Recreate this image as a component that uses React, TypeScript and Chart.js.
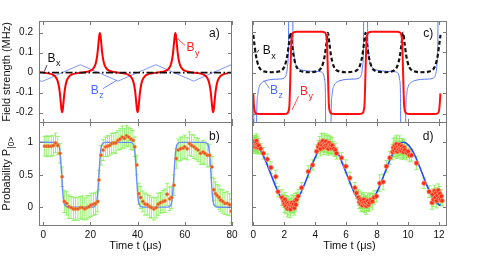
import React, { useEffect, useRef } from "react";
import { Chart, registerables } from "chart.js";

Chart.register(...registerables);

const W = 485;
const H = 261;
const FONT = '"Liberation Sans", Arial, Helvetica, sans-serif';

// ---------- Panel a: field strengths (MHz) vs time (us) ----------
const aByTime = [
  -2, 0, 2,
  4, 5, 6, 6.5, 7, 7.4, 7.7, 8, 8.3, 8.6, 9, 9.5, 10, 11, 12,
  14, 16, 18,
  20, 21, 22, 22.5, 23, 23.4, 23.7, 24, 24.3, 24.6, 25, 25.5, 26, 27, 28,
  30, 32, 34,
  36, 37, 38, 38.5, 39, 39.4, 39.7, 40, 40.3, 40.6, 41, 41.5, 42, 43, 44,
  46, 48, 50,
  52, 53, 54, 54.5, 55, 55.4, 55.7, 56, 56.3, 56.6, 57, 57.5, 58, 59, 60,
  62, 64, 66,
  68, 69, 70, 70.5, 71, 71.4, 71.7, 72, 72.3, 72.6, 73, 73.5, 74, 75, 76,
  78, 80,
];
const aByValue = [
  0.003, 0, -0.003,
  -0.01, -0.018, -0.038, -0.06, -0.098, -0.146, -0.182, -0.198, -0.182, -0.146, -0.098, -0.06, -0.038, -0.018, -0.01,
  -0.003, 0, 0.003,
  0.01, 0.018, 0.038, 0.06, 0.098, 0.146, 0.182, 0.198, 0.182, 0.146, 0.098, 0.06, 0.038, 0.018, 0.01,
  0.003, 0, -0.003,
  -0.01, -0.018, -0.038, -0.06, -0.098, -0.146, -0.182, -0.198, -0.182, -0.146, -0.098, -0.06, -0.038, -0.018, -0.01,
  -0.003, 0, 0.003,
  0.01, 0.018, 0.038, 0.06, 0.098, 0.146, 0.182, 0.198, 0.182, 0.146, 0.098, 0.06, 0.038, 0.018, 0.01,
  0.003, 0, -0.003,
  -0.01, -0.018, -0.038, -0.06, -0.098, -0.146, -0.182, -0.198, -0.182, -0.146, -0.098, -0.06, -0.038, -0.018, -0.01,
  -0.003, 0,
];
const aBzTime = [-2, -0.3, 15.7, 31.7, 47.7, 63.7, 79.7, 80];
const aBzValue = [-0.04, -0.043, 0.04, -0.042, 0.04, -0.042, 0.04, 0.039];
const aBxTime = [-2, 80];
const aBxValue = [0, 0];

// ---------- Panel b: probability vs time (us) ----------
const bFitTime = [
  -2, 0,
  5.3, 6.3, 6.8, 7.2, 7.5, 7.8, 8.1, 8.4, 8.8, 9.3, 10.3,
  21.1, 22.1, 22.6, 23.0, 23.3, 23.6, 23.9, 24.2, 24.6, 25.1, 26.1,
  37.0, 38.0, 38.5, 38.9, 39.2, 39.5, 39.8, 40.1, 40.5, 41.0, 42.0,
  52.9, 53.9, 54.4, 54.8, 55.1, 55.4, 55.7, 56.0, 56.4, 56.9, 57.9,
  68.6, 69.6, 70.1, 70.5, 70.8, 71.1, 71.4, 71.7, 72.1, 72.6, 73.6,
  80,
];
const bFitValue = [
  1.0, 1.0,
  0.998, 0.975, 0.93, 0.82, 0.67, 0.5, 0.33, 0.18, 0.07, 0.025, 0.003,
  0.003, 0.025, 0.07, 0.18, 0.33, 0.5, 0.67, 0.82, 0.93, 0.975, 0.998,
  0.998, 0.975, 0.93, 0.82, 0.67, 0.5, 0.33, 0.18, 0.07, 0.025, 0.003,
  0.003, 0.025, 0.07, 0.18, 0.33, 0.5, 0.67, 0.82, 0.93, 0.975, 0.998,
  0.998, 0.975, 0.93, 0.82, 0.67, 0.5, 0.33, 0.18, 0.07, 0.025, 0.003,
  0.0,
];
const bTime = [
  0.6, 1.5, 2.4, 3.4, 4.3, 5.2, 6.15, 7.1, 8.0, 8.95,
  9.9, 10.8, 11.8, 12.8, 13.7, 14.7, 15.7, 16.6, 17.6, 18.5,
  19.4, 20.3, 21.3, 22.2, 23.1, 23.6, 24.5, 25.4, 26.4, 27.2,
  28.1, 29.0, 29.9, 30.8, 31.7, 32.6, 33.5, 34.4, 35.3, 36.2,
  37.1, 38.0, 38.8, 39.6, 40.5, 41.3, 42.2, 43.1, 44.1, 45.1,
  45.9, 46.9, 47.9, 48.7, 49.7, 50.7, 51.6, 52.5, 53.6, 54.4,
  55.4, 56.4, 57.2, 58.2, 59.2, 60.0, 61.0, 62.0, 62.9, 63.9,
  64.8, 65.7, 66.7, 67.7, 68.5, 69.5, 70.5, 71.5, 72.3, 73.0,
  73.7, 74.5, 75.2, 76.1, 77.0, 78.0, 79.0, 79.8,
];
const bValue = [
  0.94, 0.94, 0.94, 0.94, 0.95, 0.99, 0.95, 0.83, 0.47, 0.09,
  0.06, 0.01, -0.005, -0.025, -0.025, -0.025, -0.005, -0.005, -0.025, -0.005,
  0.01, 0.036, 0.046, 0.06, 0.09, 0.42, 0.8, 0.88, 0.93, 0.94,
  0.95, 0.98, 0.99, 0.99, 1.03, 1.05, 1.08, 1.06, 1.1, 1.08,
  1.05, 1.03, 0.93, 0.65, 0.21, 0.15, 0.09, 0.05, 0.04, 0.01,
  -0.005, -0.025, -0.005, 0.046, 0.07, 0.087, 0.1, 0.2, 0.13, 0.15,
  0.34, 0.75, 0.88, 0.9, 0.91, 0.93, 0.9, 0.98, 0.95, 0.93,
  0.9, 0.88, 0.83, 0.85, 0.83, 0.8, 0.8, 0.62, 0.27, 0.21,
  0.18, 0.15, 0.11, 0.09, 0.06, 0.06, 0.04, -0.06,
];
const bError = [
  0.15, 0.16, 0.15, 0.16, 0.15, 0.15, 0.14, 0.15, 0.15, 0.17,
  0.18, 0.18, 0.17, 0.18, 0.17, 0.18, 0.17, 0.18, 0.17, 0.18,
  0.17, 0.18, 0.17, 0.17, 0.16, 0.15, 0.15, 0.16, 0.15, 0.16,
  0.15, 0.16, 0.15, 0.16, 0.15, 0.16, 0.17, 0.15, 0.16, 0.15,
  0.16, 0.15, 0.15, 0.15, 0.16, 0.17, 0.16, 0.17, 0.16, 0.17,
  0.16, 0.17, 0.16, 0.17, 0.16, 0.17, 0.18, 0.17, 0.18, 0.17,
  0.16, 0.15, 0.17, 0.18, 0.17, 0.18, 0.17, 0.18, 0.17, 0.18,
  0.17, 0.18, 0.17, 0.18, 0.17, 0.18, 0.17, 0.16, 0.17, 0.18,
  0.17, 0.18, 0.17, 0.18, 0.17, 0.18, 0.17, 0.18,
];

// ---------- Panel c: field strengths vs time (us) ----------
const cByTime = [
  0, 0.03, 0.09, 0.17, 0.37,
  2.0, 2.2, 2.28, 2.34, 2.4, 2.46, 2.52, 2.6, 2.8,
  4.42, 4.62, 4.7, 4.76, 4.82, 4.88, 4.94, 5.02, 5.22,
  6.85, 7.05, 7.13, 7.19, 7.25, 7.31, 7.37, 7.45, 7.65,
  9.28, 9.48, 9.56, 9.62, 9.68, 9.74, 9.8, 9.88, 10.08,
  11.72, 11.92, 12.0, 12.05, 12.09,
];
const cByValue = [
  -0.1, -0.15, -0.185, -0.196, -0.2,
  -0.2, -0.196, -0.185, -0.15, 0, 0.15, 0.185, 0.196, 0.2,
  0.2, 0.196, 0.185, 0.15, 0, -0.15, -0.185, -0.196, -0.2,
  -0.2, -0.196, -0.185, -0.15, 0, 0.15, 0.185, 0.196, 0.2,
  0.2, 0.196, 0.185, 0.15, 0, -0.15, -0.185, -0.196, -0.2,
  -0.2, -0.196, -0.185, -0.15, -0.1,
];
const cBxTime = [
  0, 0.07, 0.17, 0.27, 0.37, 0.52, 0.77, 1.185,
  1.6, 1.85, 2.0, 2.1, 2.2, 2.3, 2.4, 2.5, 2.6, 2.7, 2.8, 2.95, 3.2, 3.61,
  4.02, 4.27, 4.42, 4.52, 4.62, 4.72, 4.82, 4.92, 5.02, 5.12, 5.22, 5.37, 5.62, 6.035,
  6.45, 6.7, 6.85, 6.95, 7.05, 7.15, 7.25, 7.35, 7.45, 7.55, 7.65, 7.8, 8.05, 8.465,
  8.88, 9.13, 9.28, 9.38, 9.48, 9.58, 9.68, 9.78, 9.88, 9.98, 10.08, 10.23, 10.48, 10.9,
  11.32, 11.57, 11.72, 11.82, 11.92, 12.02, 12.1,
];
const cBxValue = [
  0.185, 0.14, 0.085, 0.05, 0.028, 0.013, 0.006, 0.003,
  0.006, 0.013, 0.028, 0.05, 0.085, 0.14, 0.195, 0.14, 0.085, 0.05, 0.028, 0.013, 0.006, 0.003,
  0.006, 0.013, 0.028, 0.05, 0.085, 0.14, 0.195, 0.14, 0.085, 0.05, 0.028, 0.013, 0.006, 0.003,
  0.006, 0.013, 0.028, 0.05, 0.085, 0.14, 0.195, 0.14, 0.085, 0.05, 0.028, 0.013, 0.006, 0.003,
  0.006, 0.013, 0.028, 0.05, 0.085, 0.14, 0.195, 0.14, 0.085, 0.05, 0.028, 0.013, 0.006, 0.003,
  0.006, 0.013, 0.028, 0.05, 0.085, 0.14, 0.185,
];
const cBzTime = [
  0, 0.04, 0.07, 0.16, 0.22, 0.3, 0.4, 0.55, 0.8, 1.2, 1.7, 2.0, 2.1, 2.17, 2.22, 2.27, 2.31,
  2.52, 2.56, 2.61, 2.68, 2.78, 2.95, 3.25, 3.7, 4.25, 4.45, 4.55, 4.61, 4.66, 4.7,
  4.98, 5.03, 5.1, 5.2, 5.35, 5.6, 6.0, 6.5, 6.85, 6.95, 7.02, 7.07, 7.12, 7.16,
  7.35, 7.39, 7.44, 7.51, 7.61, 7.78, 8.08, 8.5, 9.05, 9.3, 9.4, 9.46, 9.51, 9.55,
  9.8, 9.85, 9.92, 10.02, 10.17, 10.42, 10.82, 11.3, 11.65, 11.75, 11.82, 11.87, 11.92, 11.96,
];
const cBzValue = [
  -0.1, -0.25, -0.6, -0.6, -0.2, -0.1, -0.065, -0.048, -0.038, -0.032, -0.03, -0.025, -0.015, 0.005, 0.04, 0.12, 0.6,
  0.6, 0.2, 0.11, 0.06, 0.035, 0.02, 0.012, 0.008, 0.006, 0.002, -0.01, -0.035, -0.1, -0.6,
  -0.6, -0.2, -0.1, -0.065, -0.048, -0.038, -0.032, -0.03, -0.025, -0.015, 0.005, 0.04, 0.12, 0.6,
  0.6, 0.2, 0.11, 0.06, 0.035, 0.02, 0.012, 0.008, 0.006, 0.002, -0.01, -0.035, -0.1, -0.6,
  -0.6, -0.2, -0.1, -0.065, -0.048, -0.038, -0.032, -0.03, -0.025, -0.015, 0.005, 0.04, 0.12, 0.6,
];

// ---------- Panel d: probability vs time (us) ----------
const dFitTime = [
  0, 0.3, 0.6, 0.9, 1.2, 1.5, 1.8, 2.1, 2.35, 2.7,
  3.0, 3.3, 3.6, 3.9, 4.2, 4.5, 4.8, 5.1, 5.4, 5.7,
  6.0, 6.3, 6.6, 6.9, 7.25, 7.5, 7.8, 8.1, 8.4, 8.7,
  9.0, 9.3, 9.7, 9.9, 10.2, 10.5, 10.8, 11.1, 11.4, 11.7,
  12.0, 12.1,
];
const dFitValue = [
  0.996, 0.938, 0.818, 0.653, 0.469, 0.29, 0.146, 0.055, 0.03, 0.078,
  0.189, 0.348, 0.53, 0.711, 0.863, 0.965, 1.0, 0.965, 0.863, 0.711,
  0.53, 0.348, 0.189, 0.078, 0.03, 0.055, 0.146, 0.291, 0.469, 0.653,
  0.818, 0.938, 1.0, 0.984, 0.904, 0.766, 0.593, 0.407, 0.238, 0.109,
  0.039, 0.031,
];
const dTime = [
  0.0, 0.03, 0.06, 0.09, 0.12, 0.15, 0.18, 0.21, 0.24, 0.27, 0.31, 0.35,
  0.48, 0.65, 0.9, 1.14, 1.45, 1.6,
  1.85, 1.95, 2.0, 2.05, 2.1, 2.15, 2.2, 2.25, 2.3, 2.35, 2.4, 2.45, 2.5, 2.55, 2.6, 2.65, 2.7, 2.75, 2.8, 2.9,
  3.12, 3.55, 3.83, 4.09,
  4.2, 4.28, 4.35, 4.4, 4.45, 4.5, 4.55, 4.6, 4.65, 4.7, 4.75, 4.8, 4.85, 4.9, 4.95, 5.0, 5.05, 5.1, 5.2, 5.3,
  5.38, 5.7, 5.98, 6.24, 6.56, 6.67,
  6.8, 6.85, 6.9, 6.95, 7.0, 7.05, 7.1, 7.15, 7.2, 7.25, 7.3, 7.35, 7.4, 7.45, 7.5, 7.6, 7.7, 7.8,
  7.96, 8.17, 8.39, 8.6, 8.82,
  9.0, 9.05, 9.1, 9.15, 9.2, 9.25, 9.3, 9.35, 9.4, 9.45, 9.5, 9.55, 9.6, 9.65, 9.7, 9.75, 9.8, 9.9, 10.0, 10.1,
  10.22, 10.54, 11.03, 11.36,
  11.55, 11.6, 11.65, 11.7, 11.75, 11.8, 11.85, 11.9, 11.95, 12.0, 12.05, 12.1, 12.15, 12.2,
];
const dValue = [
  0.98, 0.95, 1.01, 0.97, 0.93, 0.99, 0.96, 1.02, 0.94, 0.97, 0.92, 0.95,
  0.9, 0.83, 0.74, 0.61, 0.47, 0.24,
  0.15, 0.1, 0.05, 0.12, 0.02, 0.08, -0.02, 0.06, 0.0, 0.04, -0.03, 0.03, 0.07, 0.01, 0.05, -0.01, 0.09, 0.04, 0.12, 0.17,
  0.3, 0.55, 0.65, 0.86,
  0.93, 0.97, 0.9, 1.0, 0.95, 1.02, 0.92, 0.98, 0.95, 1.01, 0.93, 0.97, 0.9, 0.99, 0.94, 0.96, 0.91, 0.95, 0.9, 0.88,
  0.83, 0.76, 0.63, 0.45, 0.3, 0.22,
  0.15, 0.08, 0.12, 0.05, 0.1, 0.03, 0.07, 0.12, 0.04, 0.08, 0.02, 0.06, 0.1, 0.04, 0.07, 0.11, 0.09, 0.15,
  0.17, 0.37, 0.39, 0.63, 0.76,
  0.85, 0.92, 0.88, 0.95, 0.9, 0.97, 0.86, 0.93, 0.89, 0.96, 0.91, 0.87, 0.94, 0.9, 0.85, 0.92, 0.88, 0.84, 0.86, 0.8,
  0.8, 0.68, 0.37, 0.24,
  0.07, 0.2, 0.12, 0.25, 0.15, 0.22, 0.1, 0.18, 0.26, 0.14, 0.21, 0.12, 0.17, 0.1,
];
const dError = [
  0.1, 0.12, 0.09, 0.11, 0.1, 0.12, 0.09, 0.11, 0.1, 0.12, 0.1, 0.11,
  0.08, 0.09, 0.08, 0.09, 0.1, 0.08,
  0.12, 0.1, 0.13, 0.11, 0.12, 0.1, 0.13, 0.11, 0.12, 0.1, 0.13, 0.11, 0.12, 0.1, 0.13, 0.11, 0.12, 0.1, 0.11, 0.1,
  0.08, 0.09, 0.08, 0.1,
  0.1, 0.12, 0.11, 0.13, 0.1, 0.12, 0.11, 0.13, 0.1, 0.12, 0.11, 0.13, 0.1, 0.12, 0.11, 0.13, 0.1, 0.12, 0.11, 0.1,
  0.09, 0.08, 0.1, 0.09, 0.08, 0.09,
  0.12, 0.1, 0.13, 0.11, 0.12, 0.1, 0.13, 0.11, 0.12, 0.1, 0.13, 0.11, 0.12, 0.1, 0.13, 0.11, 0.12, 0.1,
  0.09, 0.13, 0.12, 0.09, 0.1,
  0.12, 0.14, 0.11, 0.13, 0.12, 0.14, 0.11, 0.13, 0.12, 0.14, 0.11, 0.13, 0.12, 0.14, 0.11, 0.13, 0.12, 0.11, 0.1, 0.1,
  0.09, 0.1, 0.08, 0.09,
  0.1, 0.08, 0.11, 0.09, 0.1, 0.08, 0.11, 0.09, 0.1, 0.08, 0.11, 0.09, 0.1, 0.08,
];

// ---------- ticks ----------
const timeTicksLeft = [0, 20, 40, 60, 80];
const timeTickLabelsLeft = ["0", "20", "40", "60", "80"];
const timeTicksRight = [0, 2, 4, 6, 8, 10, 12];
const timeTickLabelsRight = ["0", "2", "4", "6", "8", "10", "12"];
const fieldTicks = [-0.2, -0.1, 0, 0.1, 0.2];
const fieldTickLabels = ["-0.2", "-0.1", "0", "0.1", "0.2"];
const probTicks = [0, 0.5, 1];
const probTickLabels = ["0", "0.5", "1"];

const pts = (xs: number[], ys: number[]) => xs.map((x, i) => ({ x, y: ys[i] }));

// ---------- plugins ----------
function framePlugin(xTicks: number[], yTicks: number[]) {
  return {
    id: "frame",
    afterDatasetsDraw(chart: any) {
      const { ctx, chartArea: ca, scales } = chart;
      ctx.save();
      ctx.strokeStyle = "#7a7a7a";
      ctx.lineWidth = 1;
      ctx.strokeRect(ca.left + 0.5, ca.top + 0.5, ca.right - ca.left - 1, ca.bottom - ca.top - 1);
      const L = 4;
      ctx.beginPath();
      for (const v of xTicks) {
        const px = Math.round(scales.x.getPixelForValue(v)) + 0.5;
        ctx.moveTo(px, ca.bottom);
        ctx.lineTo(px, ca.bottom - L);
        ctx.moveTo(px, ca.top);
        ctx.lineTo(px, ca.top + L);
      }
      for (const v of yTicks) {
        const py = Math.round(scales.y.getPixelForValue(v)) + 0.5;
        ctx.moveTo(ca.left, py);
        ctx.lineTo(ca.left + L, py);
        ctx.moveTo(ca.right, py);
        ctx.lineTo(ca.right - L, py);
      }
      ctx.stroke();
      ctx.restore();
    },
  };
}

function errorBarPlugin(xs: number[], ys: number[], es: number[], color: string, cap: number) {
  return {
    id: "errbars",
    beforeDatasetsDraw(chart: any) {
      const { ctx, chartArea: ca, scales } = chart;
      ctx.save();
      ctx.beginPath();
      ctx.rect(ca.left, ca.top, ca.right - ca.left, ca.bottom - ca.top);
      ctx.clip();
      ctx.strokeStyle = color;
      ctx.lineWidth = 1;
      ctx.beginPath();
      xs.forEach((x, i) => {
        const px = scales.x.getPixelForValue(x);
        const y1 = scales.y.getPixelForValue(ys[i] - es[i]);
        const y2 = scales.y.getPixelForValue(ys[i] + es[i]);
        ctx.moveTo(px, y1);
        ctx.lineTo(px, y2);
        ctx.moveTo(px - cap, y1);
        ctx.lineTo(px + cap, y1);
        ctx.moveTo(px - cap, y2);
        ctx.lineTo(px + cap, y2);
      });
      ctx.stroke();
      ctx.restore();
    },
  };
}

function annotPlugin(items: any[]) {
  return {
    id: "annot",
    afterDraw(chart: any) {
      const { ctx, chartArea: ca, scales } = chart;
      const X = (v: number) => scales.x.getPixelForValue(v);
      const Y = (v: number) => scales.y.getPixelForValue(v);
      for (const it of items) {
        ctx.save();
        if (it.kind === "line") {
          ctx.strokeStyle = it.color;
          ctx.lineWidth = 0.8;
          ctx.beginPath();
          ctx.moveTo(X(it.x1), Y(it.y1));
          ctx.lineTo(X(it.x2), Y(it.y2));
          ctx.stroke();
        } else if (it.kind === "text") {
          const px = X(it.x);
          const py = Y(it.y);
          ctx.fillStyle = it.color;
          ctx.textAlign = "left";
          ctx.textBaseline = "middle";
          ctx.font = `${it.size}px ${FONT}`;
          ctx.fillText(it.text, px, py);
          if (it.sub) {
            const w = ctx.measureText(it.text).width;
            ctx.font = `${it.size * 0.75}px ${FONT}`;
            ctx.fillText(it.sub, px + w + 0.5, py + it.size * 0.45);
          }
        } else if (it.kind === "ytitle") {
          ctx.translate(it.px, (ca.top + ca.bottom) / 2);
          ctx.rotate(-Math.PI / 2);
          ctx.fillStyle = "#111";
          ctx.textAlign = "left";
          ctx.textBaseline = "middle";
          ctx.font = `${it.size}px ${FONT}`;
          const w = ctx.measureText(it.text).width;
          let ws = 0;
          if (it.sub) {
            ctx.font = `${it.size * 0.75}px ${FONT}`;
            ws = ctx.measureText(it.sub).width;
          }
          const start = -(w + ws) / 2;
          ctx.font = `${it.size}px ${FONT}`;
          ctx.fillText(it.text, start, 0);
          if (it.sub) {
            ctx.font = `${it.size * 0.75}px ${FONT}`;
            ctx.fillText(it.sub, start + w + 0.5, it.size * 0.45);
          }
        } else if (it.kind === "xtitle") {
          ctx.fillStyle = "#111";
          ctx.textAlign = "center";
          ctx.textBaseline = "middle";
          ctx.font = `${it.size}px ${FONT}`;
          ctx.fillText(it.text, (ca.left + ca.right) / 2, ca.bottom + it.dy);
        }
        ctx.restore();
      }
    },
  };
}

function makeConfig(o: any) {
  const tickFont = { family: FONT, size: 10 };
  const plugins: any[] = [];
  if (o.errbars) plugins.push(o.errbars);
  plugins.push(framePlugin(o.xTicks, o.yTicks));
  plugins.push(annotPlugin(o.annot));
  const yW = o.yLabels ? 38 : 0;
  const xH = o.xLabels ? 30 : 0;
  return {
    type: "line",
    data: { datasets: o.datasets },
    options: {
      animation: false,
      responsive: false,
      maintainAspectRatio: false,
      events: [],
      layout: {
        padding: { left: o.box.l - yW, top: o.box.t, right: W - o.box.r, bottom: H - o.box.b - xH },
      },
      plugins: { legend: { display: false }, tooltip: { enabled: false }, title: { display: false } },
      scales: {
        x: {
          type: "linear",
          min: o.xMin,
          max: o.xMax,
          grid: { display: false, drawTicks: false },
          border: { display: false },
          afterFit: (s: any) => {
            s.height = xH;
          },
          afterBuildTicks: (s: any) => {
            s.ticks = o.xTicks.map((v: number) => ({ value: v }));
          },
          ticks: {
            display: !!o.xLabels,
            autoSkip: false,
            maxRotation: 0,
            minRotation: 0,
            padding: 3,
            color: "#111",
            font: tickFont,
            callback: (_v: any, i: number) => (o.xLabels ? o.xLabels[i] : ""),
          },
        },
        y: {
          type: "linear",
          min: o.yMin,
          max: o.yMax,
          grid: { display: false, drawTicks: false },
          border: { display: false },
          afterFit: (s: any) => {
            s.width = yW;
          },
          afterBuildTicks: (s: any) => {
            s.ticks = o.yTicks.map((v: number) => ({ value: v }));
          },
          ticks: {
            display: !!o.yLabels,
            autoSkip: false,
            padding: 6,
            color: "#111",
            font: tickFont,
            callback: (_v: any, i: number) => (o.yLabels ? o.yLabels[i] : ""),
          },
        },
      },
    },
    plugins,
  };
}

const line = (xs: number[], ys: number[], color: string, width: number, extra: any = {}) => ({
  data: pts(xs, ys),
  borderColor: color,
  backgroundColor: color,
  borderWidth: width,
  pointRadius: 0,
  fill: false,
  tension: 0,
  ...extra,
});

const configA = () =>
  makeConfig({
    box: { l: 39, t: 21, r: 232, b: 123 },
    xMin: -1.8, xMax: 80, yMin: -0.2515, yMax: 0.2585,
    xTicks: timeTicksLeft, xLabels: null,
    yTicks: fieldTicks, yLabels: fieldTickLabels,
    datasets: [
      line(aBxTime, aBxValue, "#111", 1.8, { borderDash: [7, 2.5, 1.5, 2.5], order: 0 }),
      line(aByTime, aByValue, "#ff0000", 2, { cubicInterpolationMode: "monotone", order: 1 }),
      line(aBzTime, aBzValue, "#7f98ff", 1, { order: 2 }),
    ],
    annot: [
      { kind: "ytitle", text: "Field strength (MHz)", px: 7, size: 11 },
      { kind: "line", x1: 0.45, y1: 0.006, x2: 1.59, y2: 0.038, color: "#111" },
      { kind: "text", text: "B", sub: "x", x: 1.8, y: 0.071, color: "#111", size: 12 },
      { kind: "line", x1: 57.0, y1: 0.17, x2: 60.1, y2: 0.136, color: "#ff2020" },
      { kind: "text", text: "B", sub: "y", x: 60.7, y: 0.124, color: "#ff2020", size: 12 },
      { kind: "line", x1: 25.3, y1: -0.08, x2: 31.0, y2: -0.039, color: "#4a6aff" },
      { kind: "text", text: "B", sub: "z", x: 20.1, y: -0.089, color: "#4a6aff", size: 12 },
      { kind: "text", text: "a)", x: 70.3, y: 0.195, color: "#111", size: 12 },
    ],
  });

const configB = () =>
  makeConfig({
    box: { l: 39, t: 122, r: 232, b: 226 },
    xMin: -1.8, xMax: 80, yMin: -0.288, yMax: 1.312,
    xTicks: timeTicksLeft, xLabels: timeTickLabelsLeft,
    yTicks: probTicks, yLabels: probTickLabels,
    errbars: errorBarPlugin(bTime, bValue, bError, "rgba(125, 238, 75, 0.8)", 2),
    datasets: [
      {
        data: pts(bTime, bValue),
        showLine: false,
        pointRadius: 1.7,
        pointBackgroundColor: "#e4532b",
        pointBorderColor: "#f5a145",
        pointBorderWidth: 0.6,
        order: 0,
      },
      line(bFitTime, bFitValue, "#6a8cff", 1.4, { cubicInterpolationMode: "monotone", order: 1 }),
    ],
    annot: [
      { kind: "ytitle", text: "Probability P", sub: "|0>", px: 7, size: 11 },
      { kind: "xtitle", text: "Time t (μs)", dy: 20, size: 11 },
      { kind: "text", text: "b)", x: 70.3, y: 1.08, color: "#111", size: 12 },
    ],
  });

const configC = () =>
  makeConfig({
    box: { l: 252, t: 21, r: 447, b: 123 },
    xMin: -0.084, xMax: 12.517, yMin: -0.2437, yMax: 0.252,
    xTicks: timeTicksRight, xLabels: null,
    yTicks: fieldTicks, yLabels: null,
    datasets: [
      line(cByTime, cByValue, "#ff1010", 2, { cubicInterpolationMode: "monotone", order: 0 }),
      line(cBxTime, cBxValue, "#111", 2.2, { borderDash: [4, 2.5], cubicInterpolationMode: "monotone", order: 1 }),
      line(cBzTime, cBzValue, "#5a78ff", 1, { cubicInterpolationMode: "monotone", order: 2 }),
    ],
    annot: [
      { kind: "line", x1: 0.22, y1: 0.097, x2: 0.37, y2: 0.112, color: "#111" },
      { kind: "text", text: "B", sub: "x", x: 0.61, y: 0.107, color: "#111", size: 12 },
      { kind: "line", x1: 1.05, y1: -0.076, x2: 0.69, y2: -0.037, color: "#4a6aff" },
      { kind: "text", text: "B", sub: "z", x: 1.08, y: -0.086, color: "#4a6aff", size: 12 },
      { kind: "line", x1: 2.92, y1: -0.115, x2: 2.5, y2: -0.18, color: "#ff2020" },
      { kind: "text", text: "B", sub: "y", x: 3.02, y: -0.09, color: "#ff2020", size: 12 },
      { kind: "text", text: "c)", x: 10.99, y: 0.192, color: "#111", size: 12 },
    ],
  });

const configD = () =>
  makeConfig({
    box: { l: 252, t: 122, r: 447, b: 226 },
    xMin: -0.084, xMax: 12.517, yMin: -0.288, yMax: 1.312,
    xTicks: timeTicksRight, xLabels: timeTickLabelsRight,
    yTicks: probTicks, yLabels: null,
    errbars: errorBarPlugin(dTime, dValue, dError, "rgba(125, 238, 75, 0.8)", 2),
    datasets: [
      {
        data: pts(dTime, dValue),
        showLine: false,
        pointRadius: 2.3,
        pointBackgroundColor: "#ff2a1a",
        pointBorderColor: "#f29a70",
        pointBorderWidth: 0.8,
        order: 0,
      },
      line(dFitTime, dFitValue, "#2848ff", 1.6, { cubicInterpolationMode: "monotone", order: 1 }),
    ],
    annot: [
      { kind: "xtitle", text: "Time t (μs)", dy: 20, size: 11 },
      { kind: "text", text: "d)", x: 10.95, y: 1.08, color: "#111", size: 12 },
    ],
  });

function Panel({ make }: { make: () => any }) {
  const ref = useRef<HTMLCanvasElement | null>(null);
  useEffect(() => {
    if (!ref.current) return;
    const chart = new Chart(ref.current, make());
    return () => chart.destroy();
  }, [make]);
  return (
    <canvas
      ref={ref}
      width={W}
      height={H}
      style={{ position: "absolute", left: 0, top: 0, width: W, height: H }}
    />
  );
}

export default function App() {
  return (
    <div style={{ position: "absolute", left: 0, top: 0, width: W, height: H, background: "#fff" }}>
      <Panel make={configA} />
      <Panel make={configB} />
      <Panel make={configC} />
      <Panel make={configD} />
    </div>
  );
}
